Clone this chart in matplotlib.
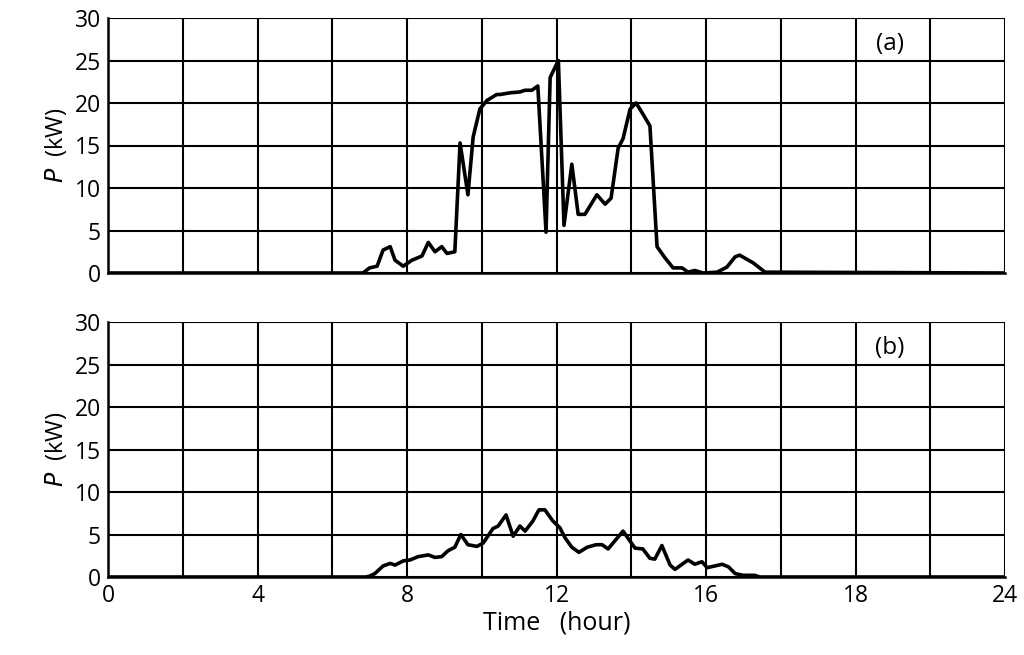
import matplotlib.pyplot as plt

plt.rcParams['font.family'] = ['Open Sans', 'DejaVu Sans']

# panel (a): time in hours, power in kW
t_a = [0, 6.82, 7.0, 7.2, 7.36, 7.55, 7.68, 7.9, 8.13, 8.4, 8.57, 8.75, 8.93, 9.07, 9.28,
       9.42, 9.63, 9.77, 9.95, 10.14, 10.4, 10.49, 10.76, 11.02, 11.16, 11.34, 11.5,
       11.72, 11.83, 12.05, 12.2, 12.41, 12.58, 12.76, 13.08, 13.3, 13.46, 13.65, 13.78,
       13.97, 14.13, 14.34, 14.5, 14.69, 14.9, 15.12, 15.36, 15.52, 15.7, 15.92, 16.3,
       16.56, 16.78, 16.9, 17.26, 17.58, 24]
p_a = [0, 0, 0.6, 0.8, 2.7, 3.1, 1.5, 0.8, 1.5, 2.0, 3.6, 2.5, 3.1, 2.3, 2.5,
       15.3, 9.2, 16.0, 19.3, 20.3, 21.0, 21.0, 21.2, 21.3, 21.5, 21.5, 22.0,
       4.8, 23.0, 25.0, 5.6, 12.8, 6.9, 6.9, 9.2, 8.1, 8.8, 14.7, 15.8,
       19.3, 20.0, 18.5, 17.3, 3.1, 1.8, 0.6, 0.6, 0.1, 0.3, 0, 0.1,
       0.7, 1.9, 2.1, 1.2, 0.1, 0]

# panel (b)
t_b = [0, 6.9, 7.0, 7.14, 7.36, 7.55, 7.68, 7.9, 8.08, 8.3, 8.57, 8.75, 8.93, 9.1, 9.28,
       9.44, 9.63, 9.87, 10.04, 10.3, 10.44, 10.65, 10.84, 11.02, 11.16, 11.37, 11.53,
       11.69, 11.9, 12.09, 12.23, 12.41, 12.6, 12.82, 13.06, 13.22, 13.38, 13.78, 14.1,
       14.31, 14.5, 14.63, 14.82, 15.04, 15.17, 15.52, 15.7, 15.89, 16.03, 16.24, 16.43,
       16.6, 16.78, 16.99, 17.3, 17.44, 24]
p_b = [0, 0, 0.1, 0.4, 1.3, 1.6, 1.4, 1.9, 2.0, 2.4, 2.6, 2.3, 2.4, 3.1, 3.5,
       5.0, 3.8, 3.6, 4.0, 5.7, 6.0, 7.3, 4.8, 6.0, 5.4, 6.6, 7.9,
       7.9, 6.6, 5.8, 4.6, 3.5, 2.9, 3.5, 3.8, 3.8, 3.3, 5.4, 3.4,
       3.3, 2.2, 2.1, 3.7, 1.4, 0.9, 2.0, 1.5, 1.8, 1.1, 1.3, 1.5,
       1.2, 0.4, 0.2, 0.2, 0, 0]

x_ticks = [0, 4, 8, 12, 16, 20, 24]
x_labels = ['0', '4', '8', '12', '16', '18', '24']
y_ticks = [0, 5, 10, 15, 20, 25, 30]

fig = plt.figure(figsize=(10.24, 6.55), dpi=100)
ax1 = fig.add_axes([108/1024, 1 - 273/655, 897/1024, 255/655])
ax2 = fig.add_axes([108/1024, 1 - 577/655, 897/1024, 255/655])

for ax, t, p, tag in [(ax1, t_a, p_a, '(a)'), (ax2, t_b, p_b, '(b)')]:
    ax.plot(t, p, color='black', lw=2.6, zorder=3)
    ax.set_xlim(0, 24)
    ax.set_ylim(0, 30)
    ax.set_xticks(range(0, 25, 2), minor=True)
    ax.set_xticks(x_ticks)
    ax.set_yticks(y_ticks)
    ax.grid(True, which='both', color='black', lw=1.5)
    ax.tick_params(which='both', length=0, labelsize=16.5, pad=5)
    for s in ['top', 'right']:
        ax.spines[s].set_visible(False)
    for s in ['left', 'bottom']:
        ax.spines[s].set_linewidth(1.8)
    ax.set_ylabel('$P$  (kW)', fontsize=17)
    ax.text(0.872, 0.9, tag, transform=ax.transAxes, fontsize=17.5, ha='center', va='center',
            bbox=dict(facecolor='white', edgecolor='none', pad=2), zorder=4)

ax1.set_xticklabels([])
ax2.set_xticklabels(x_labels)
ax2.set_xlabel('Time   (hour)', fontsize=18, labelpad=2)

fig.savefig('out.png', dpi=100)
